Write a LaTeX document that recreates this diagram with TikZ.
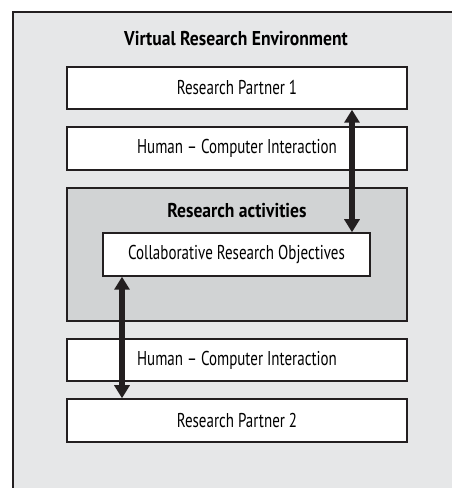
\documentclass[tikz,border=0pt]{standalone}
\usepackage{fontspec}
\setmainfont{PT Sans}[FakeStretch=0.75, BoldFeatures={FakeStretch=0.88}]
\usetikzlibrary{arrows.meta}
\definecolor{frame}{HTML}{231F20}
\definecolor{outerbg}{HTML}{E6E7E8}
\definecolor{innerbg}{HTML}{D1D3D4}
\tikzset{
  whitebox/.style={draw=frame, line width=1.5pt, fill=white, minimum width=340pt, minimum height=42pt, inner sep=0pt, font=\fontsize{20}{24}\selectfont},
  croboxstyle/.style={whitebox, minimum width=267pt, minimum height=43pt},
  titletext/.style={font=\fontsize{20}{24}\selectfont\bfseries, inner sep=0pt},
  thickarrow/.style={line width=5.5pt, draw=frame, {Triangle[width=15pt,length=13pt]}-{Triangle[width=15pt,length=13pt]}}
}
\begin{document}
\begin{tikzpicture}[x=1pt,y=1pt]
\useasboundingbox (0,0) rectangle (452,488);
\fill[white] (0,0) rectangle (452,488);
\begin{scope}
\clip (0,0) rectangle (452,488);
\draw[frame, line width=2pt, fill=outerbg] (13,476) rectangle (470,-20);
\end{scope}
\node[titletext] (vre) at (236,449) {Virtual Research Environment};
\node[whitebox] (rp1) at (237,400) {Research Partner 1};
\node[whitebox, minimum height=43pt] (hci1) at (237,339.5) {Human -- Computer Interaction};
\node[draw=frame, line width=1.5pt, fill=innerbg, minimum width=340pt, minimum height=133pt, inner sep=0pt] (ra) at (237,233.5) {};
\node[titletext] (ratitle) at (237,277) {Research activities};
\node[croboxstyle] (cro) at (236.5,233.5) {Collaborative Research Objectives};
\node[whitebox] (hci2) at (237,128) {Human -- Computer Interaction};
\node[whitebox, minimum height=43pt] (rp2) at (237,67.5) {Research Partner 2};
\draw[thickarrow] (rp1.south -| 352,0) -- (cro.north -| 352,0);
\draw[thickarrow] (cro.south -| 122,0) -- (rp2.north -| 122,0);
\end{tikzpicture}
\end{document}
